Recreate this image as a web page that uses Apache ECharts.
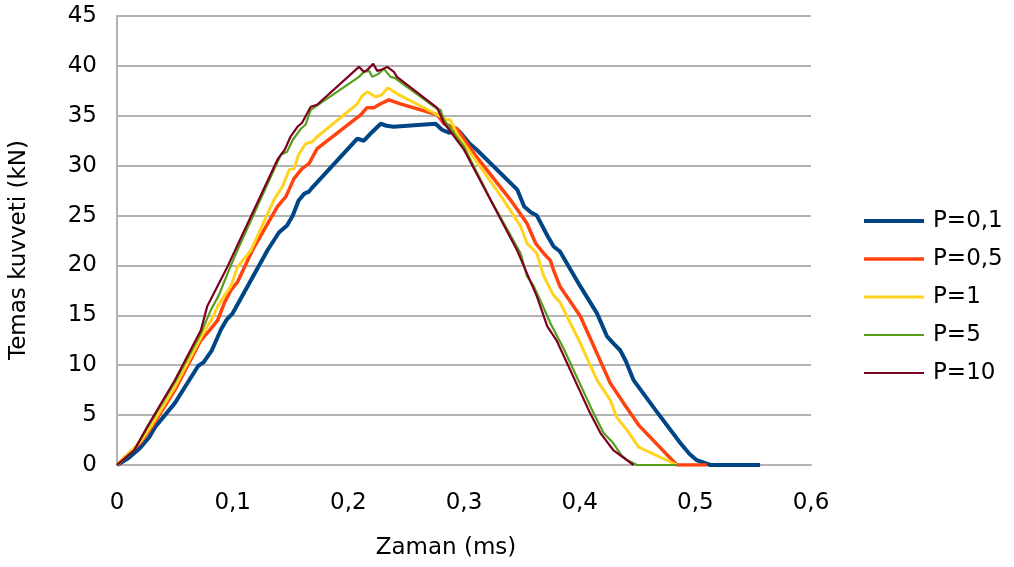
<!DOCTYPE html>
<html><head><meta charset="utf-8">
<script src="https://cdn.jsdelivr.net/npm/echarts@6/dist/echarts.min.js"></script>
<style>html,body{margin:0;padding:0;background:#fff}#c{width:1014px;height:567px}</style>
</head><body><div id="c"></div>
<script>
const seriesNames = ['P=0,1','P=0,5','P=1','P=5','P=10'];
const xTicks = [0,0.1,0.2,0.3,0.4,0.5,0.6];
const yTicks = [0,5,10,15,20,25,30,35,40,45];

const p01 = [[0,0],[0.01,0.7],[0.02,1.7],[0.028,2.8],[0.03,3.2],[0.031,3.0],[0.033,3.8],[0.05,6.2],[0.07,9.9],[0.075,10.3],[0.082,11.5],[0.09,13.6],[0.095,14.6],[0.1,15.2],[0.13,21.5],[0.14,23.3],[0.147,24.0],[0.152,25.0],[0.157,26.5],[0.162,27.2],[0.166,27.4],[0.168,27.7],[0.2078,32.7],[0.2135,32.5],[0.22,33.3],[0.228,34.2],[0.233,34.0],[0.239,33.9],[0.2754,34.2],[0.281,33.6],[0.287,33.3],[0.2955,33.5],[0.305,32.2],[0.311,31.6],[0.346,27.6],[0.352,25.9],[0.358,25.3],[0.363,25.0],[0.372,23.0],[0.3775,21.9],[0.383,21.4],[0.4006,17.9],[0.415,15.2],[0.4236,12.9],[0.43,12.1],[0.435,11.5],[0.44,10.4],[0.4466,8.5],[0.465,5.6],[0.487,2.2],[0.495,1.1],[0.501,0.5],[0.513,0],[0.556,0]];
const p05 = [[0,0],[0.02,2.2],[0.03,3.8],[0.05,7.5],[0.0725,12.5],[0.08,13.5],[0.087,14.5],[0.093,16.3],[0.0984,17.5],[0.104,18.3],[0.117,21.5],[0.1387,25.9],[0.146,26.9],[0.153,28.7],[0.16,29.7],[0.166,30.2],[0.173,31.7],[0.2107,35.1],[0.216,35.8],[0.222,35.8],[0.228,36.2],[0.235,36.6],[0.245,36.2],[0.277,35.1],[0.2826,34.2],[0.294,33.7],[0.31,31.0],[0.34,26.6],[0.3545,24.2],[0.362,22.2],[0.369,21.2],[0.3747,20.5],[0.3775,19.5],[0.383,17.9],[0.4006,14.9],[0.4265,8.2],[0.438,6.2],[0.451,4.0],[0.484,0],[0.51,0]];
const p1 = [[0,0],[0.02,2.3],[0.03,4.0],[0.05,7.8],[0.0754,13.4],[0.082,14.6],[0.087,15.9],[0.093,17.0],[0.0984,17.9],[0.104,19.8],[0.1157,21.5],[0.1358,26.6],[0.143,27.9],[0.149,29.6],[0.153,29.7],[0.157,31.1],[0.163,32.2],[0.169,32.4],[0.172,32.8],[0.2078,36.2],[0.212,37.0],[0.2164,37.4],[0.2235,36.9],[0.229,37.1],[0.234,37.8],[0.2423,37.2],[0.277,35.1],[0.285,34.6],[0.288,34.6],[0.294,33.2],[0.334,26.6],[0.349,23.9],[0.3545,22.2],[0.36,21.6],[0.363,21.2],[0.369,18.9],[0.3775,17.0],[0.383,16.3],[0.4006,12.2],[0.415,8.5],[0.4265,6.5],[0.432,4.8],[0.4409,3.5],[0.451,1.8],[0.484,0]];
const p5 = [[0,0],[0.015,1.5],[0.0265,3.8],[0.05,8.3],[0.0725,13.2],[0.081,15.5],[0.088,17.0],[0.0956,19.2],[0.104,21.5],[0.1416,31.1],[0.147,31.4],[0.152,32.6],[0.159,33.7],[0.163,34.1],[0.1675,35.6],[0.2092,38.9],[0.2135,39.4],[0.218,39.5],[0.2207,38.9],[0.226,39.2],[0.2307,39.7],[0.2365,38.9],[0.24,38.8],[0.2768,35.7],[0.2797,35.6],[0.2826,34.6],[0.3,31.9],[0.323,26.6],[0.349,21.2],[0.3545,18.9],[0.36,18.0],[0.366,16.5],[0.3747,14.2],[0.386,11.7],[0.412,5.2],[0.4207,3.2],[0.429,2.2],[0.436,1.0],[0.4409,0.5],[0.4495,0],[0.484,0]];
const p10 = [[0,0],[0.015,1.5],[0.0265,3.9],[0.05,8.5],[0.0725,13.5],[0.078,15.9],[0.0956,19.9],[0.1,21.0],[0.1387,30.6],[0.145,31.6],[0.15,32.9],[0.156,33.9],[0.16,34.3],[0.1675,35.9],[0.173,36.1],[0.2092,39.9],[0.2135,39.4],[0.2164,39.6],[0.2215,40.2],[0.225,39.5],[0.228,39.6],[0.2337,39.9],[0.2394,39.4],[0.242,38.9],[0.2768,35.8],[0.2826,34.3],[0.3,31.6],[0.346,21.5],[0.3574,18.4],[0.363,16.9],[0.372,13.9],[0.38,12.5],[0.409,5.2],[0.418,3.2],[0.429,1.5],[0.4466,0]];

const allData = [p01,p05,p1,p5,p10];
const colors = ['#004586','#ff420e','#ffd320','#579d1c','#7e0021'];
const widths = [4,3.5,3,2.2,2.2];
const FONT = 'DejaVu Sans';

const chart = echarts.init(document.getElementById('c'));
chart.setOption({
  animation:false,
  backgroundColor:'#fff',
  textStyle:{fontFamily:FONT},
  grid:{left:116,right:203,top:16,bottom:102,containLabel:false},
  legend:{
    orient:'vertical', left:862, top:209, padding:0,
    itemWidth:60, itemHeight:24, itemGap:14,
    itemStyle:{opacity:0},
    textStyle:{fontFamily:FONT,fontSize:23,color:'#000',lineHeight:24,padding:[0,0,0,4]},
    data:seriesNames.map((n,i)=>({name:n, lineStyle:{width:widths[i],color:colors[i]}}))
  },
  xAxis:{
    type:'value', min:xTicks[0], max:xTicks[xTicks.length-1], interval:0.1,
    name:'Zaman (ms)', nameLocation:'middle', nameGap:72,
    nameTextStyle:{fontFamily:FONT,fontSize:23,color:'#000',padding:[0,36,0,0]},
    axisLine:{show:true,lineStyle:{color:'#b3b3b3',width:2}},
    axisTick:{show:false},
    splitLine:{show:false},
    axisLabel:{fontFamily:FONT,fontSize:23,color:'#000',margin:27,
      formatter:v=>String(Number(v.toFixed(1))).replace('.',',')}
  },
  yAxis:{
    type:'value', min:yTicks[0], max:yTicks[yTicks.length-1], interval:5,
    name:'Temas kuvveti (kN)', nameLocation:'middle', nameGap:86, nameRotate:90,
    nameTextStyle:{fontFamily:FONT,fontSize:23,color:'#000',padding:[0,19,0,0]},
    axisLine:{show:true,lineStyle:{color:'#b3b3b3',width:2}},
    axisTick:{show:false},
    splitLine:{show:true,lineStyle:{color:'#b3b3b3',width:2}},
    axisLabel:{fontFamily:FONT,fontSize:23,color:'#000',margin:20}
  },
  series: allData.map((d,i)=>({
    name:seriesNames[i], type:'line', data:d, showSymbol:false, symbol:'none',
    color:colors[i], lineStyle:{color:colors[i],width:widths[i]},
    itemStyle:{color:colors[i]}
  }))
});
</script></body></html>
